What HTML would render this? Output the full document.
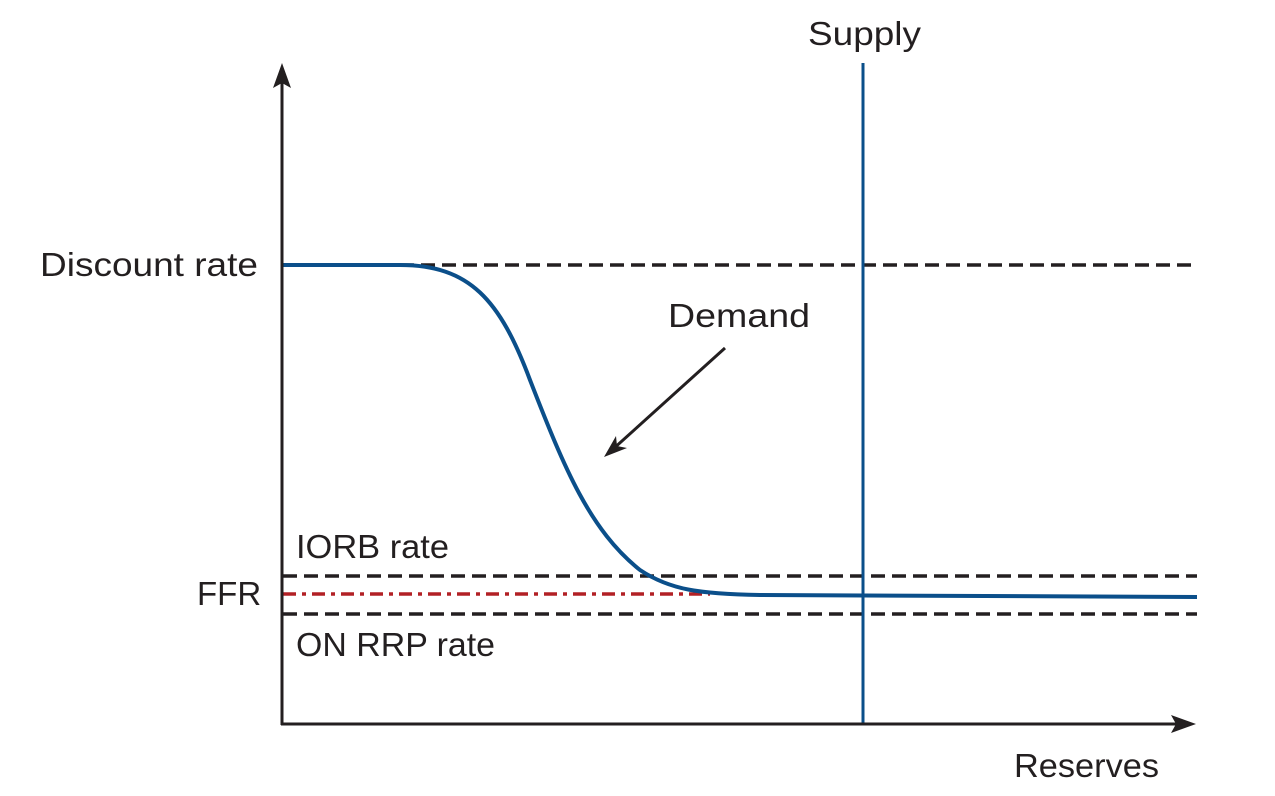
<!DOCTYPE html>
<html><head><style>body{margin:0;background:#fff}svg text{font-family:"Liberation Sans",sans-serif;fill:#231f20;font-size:33px}</style></head>
<body><svg width="1275" height="791" xmlns="http://www.w3.org/2000/svg">
<g stroke="#231f20" stroke-width="3.5" stroke-dasharray="14,7" fill="none">
<line x1="400" y1="265" x2="1197" y2="265"/>
<line x1="283" y1="576" x2="1197" y2="576"/>
<line x1="283" y1="614" x2="1197" y2="614"/>
</g>
<line x1="283" y1="594" x2="710" y2="594" stroke="#b22025" stroke-width="3.5" stroke-dasharray="13,6,4,6"/>
<line x1="863" y1="63" x2="863" y2="724" stroke="#0b4f8a" stroke-width="3"/>
<path d="M283,265 L400,265 C470,265 500,300 530,380 C565,470 590,530 640,570 C670,590 700,594 760,595 L1197,597" stroke="#0b4f8a" stroke-width="4" fill="none"/>
<line x1="282" y1="725" x2="282" y2="72" stroke="#231f20" stroke-width="3"/>
<path d="M282,63 L273,88 L282,83 L291,88 Z" fill="#231f20"/>
<line x1="281" y1="724" x2="1187" y2="724" stroke="#231f20" stroke-width="3"/>
<path d="M1196,724 L1171,715 L1176,724 L1171,733 Z" fill="#231f20"/>
<line x1="725" y1="348" x2="612" y2="450" stroke="#231f20" stroke-width="3"/>
<path d="M604,457 L616,436 L617,446 L627,448 Z" fill="#231f20"/>
<text x="40" y="276" textLength="218" lengthAdjust="spacingAndGlyphs">Discount rate</text>
<text x="197" y="605">FFR</text>
<text x="296" y="558" textLength="153" lengthAdjust="spacingAndGlyphs">IORB rate</text>
<text x="296" y="656" textLength="199" lengthAdjust="spacingAndGlyphs">ON RRP rate</text>
<text x="668" y="327" textLength="142" lengthAdjust="spacingAndGlyphs">Demand</text>
<text x="808" y="45" textLength="113" lengthAdjust="spacingAndGlyphs">Supply</text>
<text x="1014" y="777" textLength="145" lengthAdjust="spacingAndGlyphs">Reserves</text>
</svg></body></html>
